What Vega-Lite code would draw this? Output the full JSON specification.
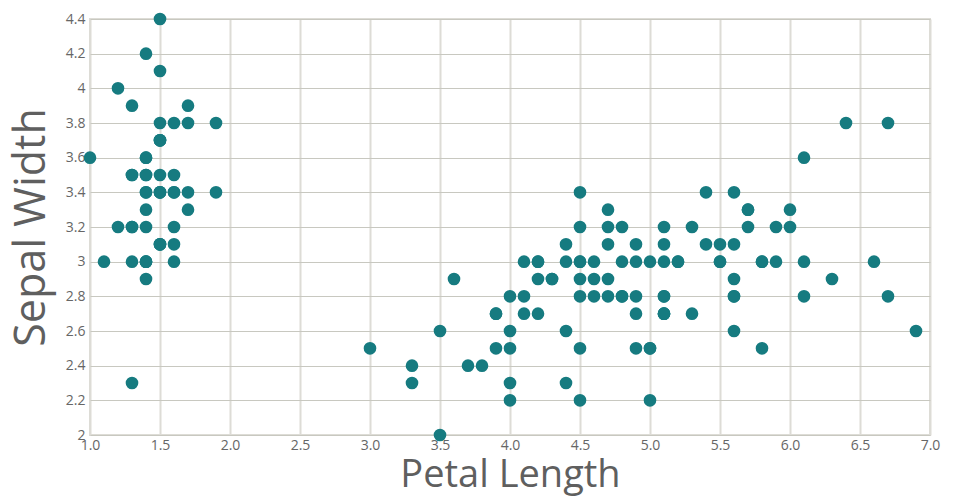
{
  "$schema": "https://vega.github.io/schema/vega-lite/v6.json",
  "width": 840,
  "height": 416,
  "autosize": {"type": "none"},
  "padding": {"left": 90, "top": 19, "right": 30, "bottom": 65},
  "background": "white",
  "config": {
    "view": {"stroke": "#dddcd6", "strokeWidth": 2},
    "font": "Open Sans"
  },
  "data": {
    "values": [
      {"petal_length": 1.4, "sepal_width": 3.5},
      {"petal_length": 1.4, "sepal_width": 3.0},
      {"petal_length": 1.3, "sepal_width": 3.2},
      {"petal_length": 1.5, "sepal_width": 3.1},
      {"petal_length": 1.4, "sepal_width": 3.6},
      {"petal_length": 1.7, "sepal_width": 3.9},
      {"petal_length": 1.4, "sepal_width": 3.4},
      {"petal_length": 1.5, "sepal_width": 3.4},
      {"petal_length": 1.4, "sepal_width": 2.9},
      {"petal_length": 1.5, "sepal_width": 3.1},
      {"petal_length": 1.5, "sepal_width": 3.7},
      {"petal_length": 1.6, "sepal_width": 3.4},
      {"petal_length": 1.4, "sepal_width": 3.0},
      {"petal_length": 1.1, "sepal_width": 3.0},
      {"petal_length": 1.2, "sepal_width": 4.0},
      {"petal_length": 1.5, "sepal_width": 4.4},
      {"petal_length": 1.3, "sepal_width": 3.9},
      {"petal_length": 1.4, "sepal_width": 3.5},
      {"petal_length": 1.7, "sepal_width": 3.8},
      {"petal_length": 1.5, "sepal_width": 3.8},
      {"petal_length": 1.7, "sepal_width": 3.4},
      {"petal_length": 1.5, "sepal_width": 3.7},
      {"petal_length": 1.0, "sepal_width": 3.6},
      {"petal_length": 1.7, "sepal_width": 3.3},
      {"petal_length": 1.9, "sepal_width": 3.4},
      {"petal_length": 1.6, "sepal_width": 3.0},
      {"petal_length": 1.6, "sepal_width": 3.4},
      {"petal_length": 1.5, "sepal_width": 3.5},
      {"petal_length": 1.4, "sepal_width": 3.4},
      {"petal_length": 1.6, "sepal_width": 3.2},
      {"petal_length": 1.6, "sepal_width": 3.1},
      {"petal_length": 1.5, "sepal_width": 3.4},
      {"petal_length": 1.5, "sepal_width": 4.1},
      {"petal_length": 1.4, "sepal_width": 4.2},
      {"petal_length": 1.5, "sepal_width": 3.1},
      {"petal_length": 1.2, "sepal_width": 3.2},
      {"petal_length": 1.3, "sepal_width": 3.5},
      {"petal_length": 1.4, "sepal_width": 3.6},
      {"petal_length": 1.3, "sepal_width": 3.0},
      {"petal_length": 1.5, "sepal_width": 3.4},
      {"petal_length": 1.3, "sepal_width": 3.5},
      {"petal_length": 1.3, "sepal_width": 2.3},
      {"petal_length": 1.3, "sepal_width": 3.2},
      {"petal_length": 1.6, "sepal_width": 3.5},
      {"petal_length": 1.9, "sepal_width": 3.8},
      {"petal_length": 1.4, "sepal_width": 3.0},
      {"petal_length": 1.6, "sepal_width": 3.8},
      {"petal_length": 1.4, "sepal_width": 3.2},
      {"petal_length": 1.5, "sepal_width": 3.7},
      {"petal_length": 1.4, "sepal_width": 3.3},
      {"petal_length": 4.7, "sepal_width": 3.2},
      {"petal_length": 4.5, "sepal_width": 3.2},
      {"petal_length": 4.9, "sepal_width": 3.1},
      {"petal_length": 4.0, "sepal_width": 2.3},
      {"petal_length": 4.6, "sepal_width": 2.8},
      {"petal_length": 4.5, "sepal_width": 2.8},
      {"petal_length": 4.7, "sepal_width": 3.3},
      {"petal_length": 3.3, "sepal_width": 2.4},
      {"petal_length": 4.6, "sepal_width": 2.9},
      {"petal_length": 3.9, "sepal_width": 2.7},
      {"petal_length": 3.5, "sepal_width": 2.0},
      {"petal_length": 4.2, "sepal_width": 3.0},
      {"petal_length": 4.0, "sepal_width": 2.2},
      {"petal_length": 4.7, "sepal_width": 2.9},
      {"petal_length": 3.6, "sepal_width": 2.9},
      {"petal_length": 4.4, "sepal_width": 3.1},
      {"petal_length": 4.5, "sepal_width": 3.0},
      {"petal_length": 4.1, "sepal_width": 2.7},
      {"petal_length": 4.5, "sepal_width": 2.2},
      {"petal_length": 3.9, "sepal_width": 2.5},
      {"petal_length": 4.8, "sepal_width": 3.2},
      {"petal_length": 4.0, "sepal_width": 2.8},
      {"petal_length": 4.9, "sepal_width": 2.5},
      {"petal_length": 4.7, "sepal_width": 2.8},
      {"petal_length": 4.3, "sepal_width": 2.9},
      {"petal_length": 4.4, "sepal_width": 3.0},
      {"petal_length": 4.8, "sepal_width": 2.8},
      {"petal_length": 5.0, "sepal_width": 3.0},
      {"petal_length": 4.5, "sepal_width": 2.9},
      {"petal_length": 3.5, "sepal_width": 2.6},
      {"petal_length": 3.8, "sepal_width": 2.4},
      {"petal_length": 3.7, "sepal_width": 2.4},
      {"petal_length": 3.9, "sepal_width": 2.7},
      {"petal_length": 5.1, "sepal_width": 2.7},
      {"petal_length": 4.5, "sepal_width": 3.0},
      {"petal_length": 4.5, "sepal_width": 3.4},
      {"petal_length": 4.7, "sepal_width": 3.1},
      {"petal_length": 4.4, "sepal_width": 2.3},
      {"petal_length": 4.1, "sepal_width": 3.0},
      {"petal_length": 4.0, "sepal_width": 2.5},
      {"petal_length": 4.4, "sepal_width": 2.6},
      {"petal_length": 4.6, "sepal_width": 3.0},
      {"petal_length": 4.0, "sepal_width": 2.6},
      {"petal_length": 3.3, "sepal_width": 2.3},
      {"petal_length": 4.2, "sepal_width": 2.7},
      {"petal_length": 4.2, "sepal_width": 3.0},
      {"petal_length": 4.2, "sepal_width": 2.9},
      {"petal_length": 4.3, "sepal_width": 2.9},
      {"petal_length": 3.0, "sepal_width": 2.5},
      {"petal_length": 4.1, "sepal_width": 2.8},
      {"petal_length": 6.0, "sepal_width": 3.3},
      {"petal_length": 5.1, "sepal_width": 2.7},
      {"petal_length": 5.9, "sepal_width": 3.0},
      {"petal_length": 5.6, "sepal_width": 2.9},
      {"petal_length": 5.8, "sepal_width": 3.0},
      {"petal_length": 6.6, "sepal_width": 3.0},
      {"petal_length": 4.5, "sepal_width": 2.5},
      {"petal_length": 6.3, "sepal_width": 2.9},
      {"petal_length": 5.8, "sepal_width": 2.5},
      {"petal_length": 6.1, "sepal_width": 3.6},
      {"petal_length": 5.1, "sepal_width": 3.2},
      {"petal_length": 5.3, "sepal_width": 2.7},
      {"petal_length": 5.5, "sepal_width": 3.0},
      {"petal_length": 5.0, "sepal_width": 2.5},
      {"petal_length": 5.1, "sepal_width": 2.8},
      {"petal_length": 5.3, "sepal_width": 3.2},
      {"petal_length": 5.5, "sepal_width": 3.0},
      {"petal_length": 6.7, "sepal_width": 3.8},
      {"petal_length": 6.9, "sepal_width": 2.6},
      {"petal_length": 5.0, "sepal_width": 2.2},
      {"petal_length": 5.7, "sepal_width": 3.2},
      {"petal_length": 4.9, "sepal_width": 2.8},
      {"petal_length": 6.7, "sepal_width": 2.8},
      {"petal_length": 4.9, "sepal_width": 2.7},
      {"petal_length": 5.7, "sepal_width": 3.3},
      {"petal_length": 6.0, "sepal_width": 3.2},
      {"petal_length": 4.8, "sepal_width": 2.8},
      {"petal_length": 4.9, "sepal_width": 3.0},
      {"petal_length": 5.6, "sepal_width": 2.8},
      {"petal_length": 5.8, "sepal_width": 3.0},
      {"petal_length": 6.1, "sepal_width": 2.8},
      {"petal_length": 6.4, "sepal_width": 3.8},
      {"petal_length": 5.6, "sepal_width": 2.8},
      {"petal_length": 5.1, "sepal_width": 2.8},
      {"petal_length": 5.6, "sepal_width": 2.6},
      {"petal_length": 6.1, "sepal_width": 3.0},
      {"petal_length": 5.6, "sepal_width": 3.4},
      {"petal_length": 5.5, "sepal_width": 3.1},
      {"petal_length": 4.8, "sepal_width": 3.0},
      {"petal_length": 5.4, "sepal_width": 3.1},
      {"petal_length": 5.6, "sepal_width": 3.1},
      {"petal_length": 5.1, "sepal_width": 3.1},
      {"petal_length": 5.1, "sepal_width": 2.7},
      {"petal_length": 5.9, "sepal_width": 3.2},
      {"petal_length": 5.7, "sepal_width": 3.3},
      {"petal_length": 5.2, "sepal_width": 3.0},
      {"petal_length": 5.0, "sepal_width": 2.5},
      {"petal_length": 5.2, "sepal_width": 3.0},
      {"petal_length": 5.4, "sepal_width": 3.4},
      {"petal_length": 5.1, "sepal_width": 3.0}
    ]
  },
  "mark": {"type": "point", "filled": true, "opacity": 1, "size": 160, "color": "#167b80"},
  "encoding": {
    "x": {
      "field": "petal_length",
      "type": "quantitative",
      "scale": {"domain": [1, 7], "nice": false, "zero": false},
      "axis": {
        "title": "Petal Length",
        "values": [1, 1.5, 2, 2.5, 3, 3.5, 4, 4.5, 5, 5.5, 6, 6.5, 7],
        "format": ".1f",
        "domain": false,
        "ticks": false,
        "labelPadding": 3,
        "labelFontSize": 14,
        "labelColor": "#666666",
        "labelFlush": false,
        "gridColor": "#dddcd6",
        "gridWidth": 2,
        "titleFontSize": 38,
        "titleFontWeight": "normal",
        "titleColor": "#5f5f5f",
        "titleBaseline": "alphabetic",
        "titleY": 51
      }
    },
    "y": {
      "field": "sepal_width",
      "type": "quantitative",
      "scale": {"domain": [2, 4.4], "nice": false, "zero": false},
      "axis": {
        "title": "Sepal Width",
        "values": [2, 2.2, 2.4, 2.6, 2.8, 3, 3.2, 3.4, 3.6, 3.8, 4, 4.2, 4.4],
        "format": "~g",
        "domain": false,
        "ticks": false,
        "labelPadding": 5,
        "labelFontSize": 14,
        "labelColor": "#666666",
        "labelFlush": false,
        "gridColor": "#c8c8c0",
        "gridWidth": 1,
        "titleFontSize": 43,
        "titleFontWeight": "normal",
        "titleColor": "#5f5f5f",
        "titlePadding": 12
      }
    }
  }
}
